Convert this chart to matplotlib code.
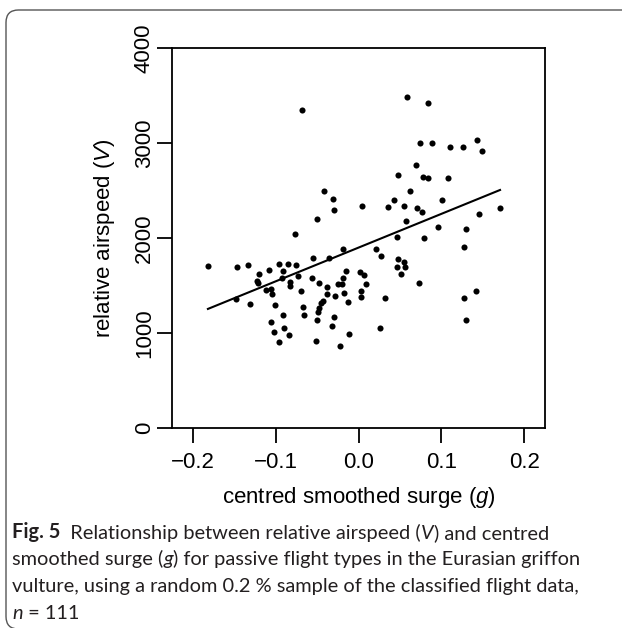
import matplotlib
matplotlib.use("Agg")
import numpy as np
import matplotlib.pyplot as plt
from matplotlib.patches import FancyBboxPatch

# Values
# centred smoothed surge (g)
surge = [
    -0.0686, -0.0416, -0.0307, -0.0292, -0.0500, -0.0766, -0.0187, -0.0545, -0.0361, -0.1815,
    -0.1470, -0.1337, -0.0963, -0.0850, -0.0758, -0.0910, -0.1205, -0.1084, -0.0147, 0.0018,
    0.0061, 0.0588, 0.0842, 0.0745, 0.0881, 0.1099, 0.1264, 0.1424, 0.1484, 0.0697,
    0.0480, 0.0773, 0.0838, 0.1083, 0.0625, 0.0432, 0.1007, 0.0042, 0.0359, 0.0544,
    0.0705, 0.0766, 0.1706, 0.1453, 0.0568, 0.0962, 0.1296, 0.0464, 0.0790, 0.1267,
    0.0206, 0.0266, 0.0480, 0.0544, 0.0468, 0.0556, 0.0512, 0.0086, 0.0034, 0.0034,
    0.0320, 0.0733, 0.1272, 0.1420, 0.1300, 0.0259, -0.1229, -0.1217, -0.0922, -0.0734,
    -0.0557, -0.0831, -0.0822, -0.1120, -0.1060, -0.1039, -0.0693, -0.1308, -0.1012, -0.0666,
    -0.0662, -0.0910, -0.1055, -0.0895, -0.1015, -0.0843, -0.0959, -0.0517, -0.0473, -0.0192,
    -0.0247, -0.0199, -0.0376, -0.0385, -0.0288, -0.0175, -0.0123, -0.0433, -0.0452, -0.0473,
    -0.0491, -0.0497, -0.0295, -0.0324, -0.0115, -0.0223, -0.1482,
]
# relative airspeed (V)
airspeed = [
    3354, 2495, 2417, 2301, 2203, 2045, 1884, 1796, 1796, 1708,
    1701, 1716, 1733, 1729, 1716, 1659, 1624, 1663, 1659, 1648,
    1614, 3484, 3427, 3003, 3003, 2961, 2964, 3031, 2916, 2768,
    2663, 2648, 2632, 2635, 2498, 2400, 2406, 2343, 2326, 2343,
    2316, 2280, 2319, 2256, 2179, 2122, 2095, 2017, 2003, 1912,
    1887, 1814, 1782, 1754, 1698, 1695, 1621, 1519, 1448, 1379,
    1372, 1526, 1375, 1445, 1137, 1056, 1550, 1533, 1585, 1600,
    1582, 1537, 1498, 1459, 1466, 1410, 1445, 1305, 1295, 1280,
    1196, 1193, 1119, 1059, 1014, 982, 912, 919, 1529, 1585,
    1519, 1522, 1487, 1410, 1393, 1421, 1329, 1335, 1314, 1266,
    1224, 1140, 1175, 1077, 989, 863, 1366,
]
# fitted line as drawn
fit_intercept = 1902
fit_slope = 3556

xticks = [-0.2, -0.1, 0.0, 0.1, 0.2]
xticklabels = ["\u22120.2", "\u22120.1", "0.0", "0.1", "0.2"]
yticks = [0, 1000, 2000, 3000, 4000]

plt.rcParams["font.family"] = "Liberation Sans"
plt.rcParams["mathtext.fontset"] = "custom"
plt.rcParams["mathtext.rm"] = "Liberation Sans"
plt.rcParams["mathtext.it"] = "Liberation Sans:italic"

fig = plt.figure(figsize=(6.22, 6.28), dpi=100)
W, H = 622, 628
ax = fig.add_axes([172 / W, 1 - 428.3 / H, 373 / W, 380 / H])

x = np.array(surge)
y = np.array(airspeed)
ax.plot(x, y, "o", color="black", markersize=4.4, markeredgewidth=0)

xs = np.array([x.min(), x.max()])
ax.plot(xs, fit_intercept + fit_slope * xs, color="black", linewidth=1.5)

ax.set_xlim(-0.2248, 0.2248)
ax.set_ylim(0, 4000)
ax.set_xticks(xticks)
ax.set_xticklabels(xticklabels)
ax.set_yticks(yticks)
ax.set_yticklabels([str(v) for v in yticks], rotation=90, va="center")

for s in ax.spines.values():
    s.set_linewidth(1.3)
ax.tick_params(axis="both", direction="out", length=10.8, width=1.3, labelsize=16)
ax.tick_params(axis="x", pad=6)
ax.tick_params(axis="y", pad=1.5)

ax.set_xlabel("centred smoothed surge ($\\mathit{g}$)", fontsize=16, va="center")
ax.set_ylabel("relative airspeed ($\\mathit{V}$)", fontsize=16, va="center")
ax.xaxis.set_label_coords(0.5, -0.181)
ax.yaxis.set_label_coords(-0.18, 0.5)

# rounded frame around the figure, running off the right and bottom edges
frame = FancyBboxPatch((6 / W, -1 / H), 1.1, (628 - 10 + 1) / H,
                       boxstyle="round,pad=0,rounding_size=0.02",
                       transform=fig.transFigure, facecolor="none",
                       edgecolor="#555555", linewidth=1.0)
fig.add_artist(frame)

# caption, built piece by piece so that italic letters can be mixed in
cap_font = "Lato"
cap_size = 14.4
cap_color = "#231f20"


def caption_line(pieces, x0, y0):
    txt, style = pieces[0]
    prev = fig.text(x0, y0, txt, fontsize=cap_size, family=cap_font,
                    color=cap_color, va="baseline", **style)
    for txt, style in pieces[1:]:
        prev = ax.annotate(txt, xy=(1, 0), xycoords=prev, va="bottom", ha="left",
                           fontsize=cap_size, family=cap_font, color=cap_color,
                           annotation_clip=False, **style)


reg = {}
ita = {"style": "italic"}
bold = {"weight": "bold"}
lines = [
    [("Fig. 5", bold), ("  Relationship between relative airspeed (", reg), ("V", ita), (") and centred", reg)],
    [("smoothed surge (", reg), ("g", ita), (") for passive flight types in the Eurasian griffon", reg)],
    [("vulture, using a random 0.2 % sample of the classified flight data,", reg)],
    [("n", ita), (" = 111", reg)],
]
baselines = [538, 565, 592, 619]
for pieces, yb in zip(lines, baselines):
    caption_line(pieces, 12 / W, 1 - yb / H)

fig.savefig("out.png", dpi=100)
